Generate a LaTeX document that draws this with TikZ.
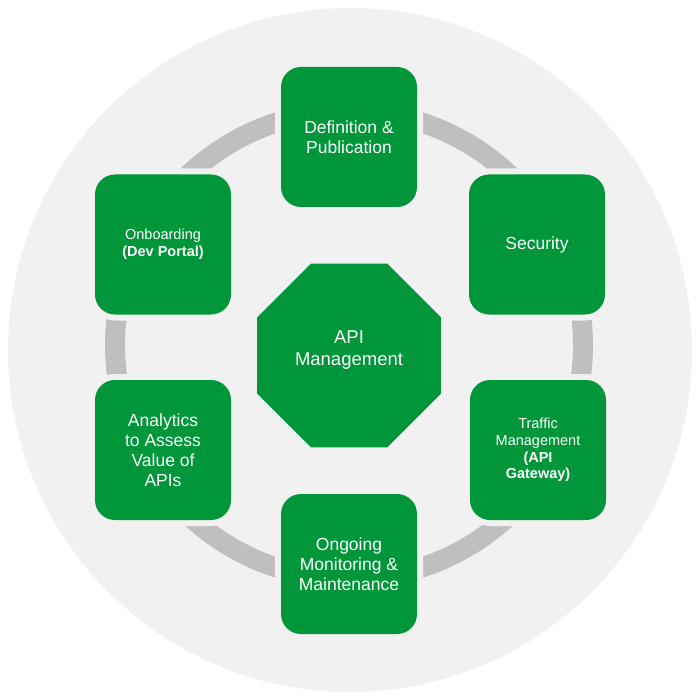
\documentclass[tikz,border=0pt]{standalone}
\usepackage{fontspec}
\setmainfont{Liberation Sans}
\usetikzlibrary{shapes.geometric}
\definecolor{apig}{HTML}{009639}
\definecolor{bgr}{HTML}{F1F1F1}
\definecolor{rng}{HTML}{BFBFBF}

\begin{document}
\begin{tikzpicture}[x=1pt, y=-1pt,
  box/.style={fill=apig, text=white, rounded corners=20pt, minimum width=136pt, minimum height=140pt, inner sep=2pt, align=center, font=\fontsize{17.5}{20}\selectfont, preaction={draw=bgr, line width=12pt}},
  small/.style={font=\fontsize{14.5}{16.6}\selectfont},
  octo/.style={regular polygon, regular polygon sides=8, minimum size=199pt, inner sep=0pt, fill=apig},
  octotext/.style={text=white, align=center, font=\fontsize{18.5}{22}\selectfont}]
\useasboundingbox (0,0) rectangle (700,700);
% ---------------- backdrop and ring
\fill[bgr] (350,350) circle[radius=342pt];
\draw[rng, line width=20pt] (349,345) circle[radius=234pt];
% ---------------- stages round the ring
\node[box] (def) at (349,137) {Definition \&\\Publication};
\node[box] (sec) at (537,244.5) {Security};
\node[box, small] (traf) at (538,450) {Traffic\\Management\\\textbf{(API}\\\textbf{Gateway)}};
\node[box] (mon) at (349,564) {Ongoing\\Monitoring \&\\Maintenance};
\node[box] (ana) at (163,450) {Analytics\\to Assess\\Value of\\APIs};
\node[box, small] (onb) at (163,244.5) {Onboarding\\\textbf{(Dev Portal)}};
% ---------------- centre
\node[octo] (api) at (349,355.5) {};
\node[octotext] (apilab) at (349,350) {API\\Management};
\end{tikzpicture}
\end{document}
